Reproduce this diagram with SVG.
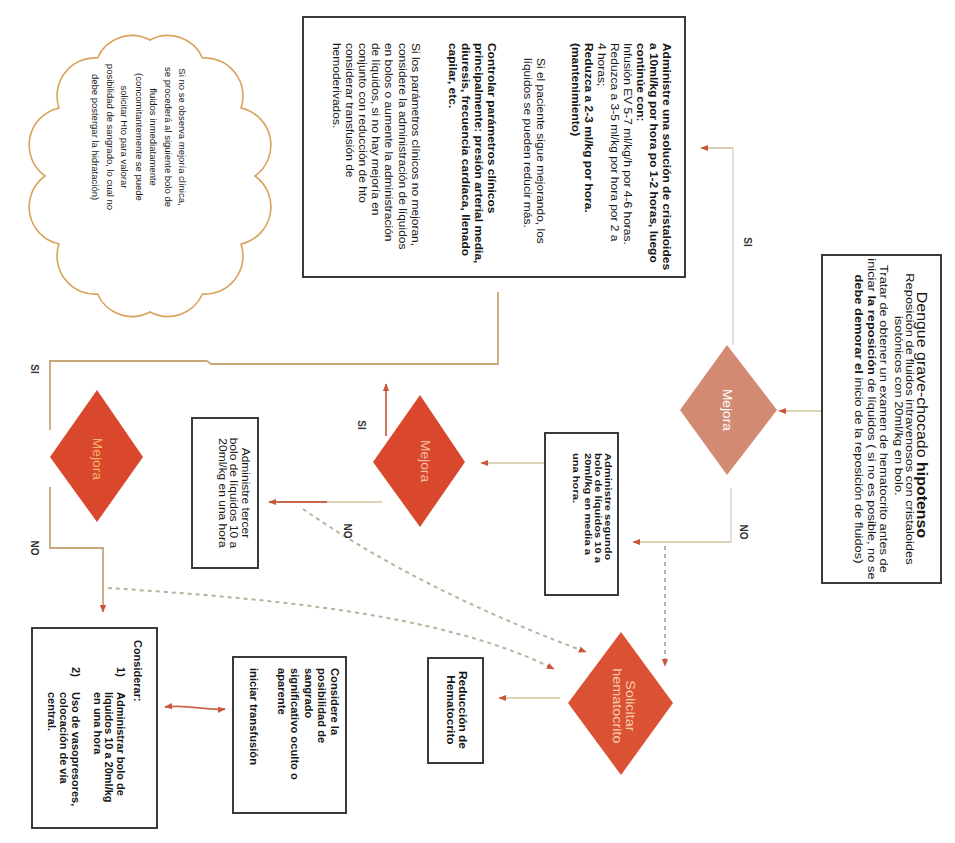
<svg xmlns="http://www.w3.org/2000/svg" width="955" height="843" viewBox="0 0 955 843">
<style>
.box{fill:#fff;stroke:#3a3a3a;stroke-width:2}
.t{font-family:"Liberation Sans",Arial,sans-serif;fill:#151515}
.b{font-weight:bold}
.ln{fill:none;stroke:#cfc59b;stroke-width:1.6}
.lf{fill:none;stroke:#dcd9cf;stroke-width:1.6}
.lb{fill:none;stroke:#c9a77a;stroke-width:1.8}
.lr{fill:none;stroke:#c8684e;stroke-width:1.8}
.dot{fill:none;stroke:#b8b29e;stroke-width:2;stroke-dasharray:4 4}
.dia{fill:#d9482c}
.lab{font-family:"Liberation Sans",Arial,sans-serif;font-weight:bold;font-size:10px;fill:#333}
</style>
<defs>
<marker id="ah" viewBox="0 0 10 10" refX="9" refY="5" markerUnits="userSpaceOnUse" markerWidth="8" markerHeight="8" orient="auto-start-reverse"><path d="M0,1 L10,5 L0,9 z" fill="#c9553a"/></marker>
</defs>
<rect width="955" height="843" fill="#fff"/>

<g id="connectors">
<path class="ln" d="M822,411 L779,411" marker-end="url(#ah)"/>
<path class="lf" d="M733,345 L733,148"/>
<path class="ln" d="M733,148 L701,148" marker-end="url(#ah)"/>
<path class="lf" d="M731,488 L731,542"/>
<path class="ln" d="M731,542 L633,542" marker-end="url(#ah)"/>
<path class="dot" d="M665,546 L665,666" marker-end="url(#ah)"/>
<path class="ln" d="M545,463 L481,463" marker-end="url(#ah)"/>
<path class="lr" d="M386,436 L386,384" marker-end="url(#ah)"/>
<path class="ln" d="M382,502 L327,502"/>
<path class="lr" d="M327,502 L269,502" marker-end="url(#ah)"/>
<path class="dot" d="M303,509 Q420,590 586,652" marker-end="url(#ah)"/>
<path class="dot" d="M108,588 C260,598 440,612 554,669" marker-end="url(#ah)"/>
<path class="lb" d="M50,430 L50,361 L207,361 L211,364 L498,364 L498,292"/>
<path class="lb" d="M50,487 L50,548 L103,548 L103,612" marker-end="url(#ah)"/>
<path class="lr" d="M165,707 C190,704 205,711 225,709" marker-start="url(#ah)" marker-end="url(#ah)"/>
<path class="ln" d="M560,698 L499,698" marker-end="url(#ah)"/>
<text class="lab" x="747" y="242" transform="rotate(90 747 242)" text-anchor="middle" dominant-baseline="central">SI</text>
<text class="lab" x="743" y="532" transform="rotate(90 743 532)" text-anchor="middle" dominant-baseline="central">NO</text>
<text class="lab" x="361" y="425" transform="rotate(90 361 425)" text-anchor="middle" dominant-baseline="central">SI</text>
<text class="lab" x="347" y="531" transform="rotate(90 347 531)" text-anchor="middle" dominant-baseline="central">NO</text>
<text class="lab" x="34" y="369" transform="rotate(90 34 369)" text-anchor="middle" dominant-baseline="central">SI</text>
<text class="lab" x="34" y="548" transform="rotate(90 34 548)" text-anchor="middle" dominant-baseline="central">NO</text>
</g>

<g id="box-cristaloides">
<rect class="box" x="303" y="17" width="382" height="260"/>
<g class="t" font-size="10" transform="rotate(90) scale(1.2,1)">
<text class="b" x="35.8" y="-663.4">Administre una solución de cristaloides</text>
<text class="b" x="35.8" y="-650.3">a 10ml/kg por hora po 1-2 horas, luego</text>
<text class="b" x="35.8" y="-637.2">continúe con:</text>
<text x="35.8" y="-624.1">Infusión EV 5-7 ml/kg/h por 4-6 horas.</text>
<text x="35.8" y="-611">Reduzca a 3-5 ml/kg por hora por 2 a</text>
<text x="35.8" y="-597.9">4 horas;</text>
<text class="b" x="35.8" y="-584.8">Reduzca a 2-3 ml/kg por hora.</text>
<text class="b" x="35.8" y="-571.7">(mantenimiento)</text>
<text x="48.3" y="-536.7">Si el paciente sigue mejorando, los</text>
<text x="48.3" y="-523.6">líquidos se pueden reducir más.</text>
<text class="b" x="35.8" y="-488.4">Controlar parámetros clínicos</text>
<text class="b" x="35.8" y="-475.3">principalmente: presión arterial media,</text>
<text class="b" x="35.8" y="-462.2">diuresis, frecuencia cardíaca, llenado</text>
<text class="b" x="35.8" y="-449.1">capilar, etc.</text>
<text x="35.8" y="-411.7">Si los parámetros clínicos no mejoran,</text>
<text x="35.8" y="-398.6">considere la administración de líquidos</text>
<text x="35.8" y="-385.5">en bolos o aumente la administración</text>
<text x="35.8" y="-372.4">de líquidos, si no hay mejoría en</text>
<text x="35.8" y="-359.3">conjunto con reducción de hto</text>
<text x="35.8" y="-346.2">considerar transfusión de</text>
<text x="35.8" y="-333.1">hemoderivados.</text>
</g>
</g>

<g id="cloud">
<path d="M255,176 A38,38 0 0 1 241,244 A38,38 0 0 1 202.5,294 A38,38 0 0 1 150,312 A38,38 0 0 1 97.5,294 A38,38 0 0 1 59,244 A38,38 0 0 1 45,176 A38,38 0 0 1 59,108 A38,38 0 0 1 97.5,58 A38,38 0 0 1 150,40 A38,38 0 0 1 202.5,58 A38,38 0 0 1 241,108 A38,38 0 0 1 255,176 Z" fill="#fff" stroke="#d9a25a" stroke-width="1.6"/>
<g class="t" font-size="9.5" text-anchor="middle" transform="rotate(90)">
<text x="137" y="-179">Si no se observa mejoría clínica,</text>
<text x="137" y="-164.5">se procederá al siguiente bolo de</text>
<text x="137" y="-150">fluidos inmediatamente</text>
<text x="137" y="-135.5">(concomitantemente se puede</text>
<text x="137" y="-121">solicitar Hto para valorar</text>
<text x="137" y="-106.5">posibilidad de sangrado, lo cual no</text>
<text x="137" y="-92">debe postergar la hidratación)</text>
</g>
</g>

<g id="box-dengue">
<rect class="box" x="822" y="255" width="119" height="328"/>
<g class="t" text-anchor="middle" transform="rotate(90) scale(1.14,1)">
<text x="364" y="-917.5" font-size="14">Dengue grave-chocado <tspan class="b">hipotenso</tspan></text>
<text x="367.5" y="-906.4" font-size="11.3">Reposición de fluidos intravenosos con cristaloides</text>
<text x="356" y="-894.7" font-size="11.3">isotónicos con 20ml/kg en bolo.</text>
<text x="367.5" y="-879.7" font-size="11.3">Tratar de obtener un examen de hematocrito antes de</text>
<text x="367.5" y="-868.1" font-size="11.3">iniciar <tspan class="b">la reposición</tspan> de líquidos ( si no es posible, no se</text>
<text x="367.5" y="-854.7" font-size="11.3"><tspan class="b">debe demorar el</tspan> inicio de la reposición de fluidos)</text>
</g>
</g>

<g id="dec-mejora-1">
<polygon points="727,345 777,410 727,475 680,410" fill="#d38a73"/>
<text x="356.5" y="-723.2" font-size="12" text-anchor="middle" fill="#fff" font-family="Liberation Sans,Arial,sans-serif" transform="rotate(90) scale(1.15,1)">Mejora</text>
</g>

<g id="box-segundo">
<rect class="box" x="545" y="433" width="73" height="162"/>
<g class="t b" font-size="9.5" transform="rotate(90) scale(1.17,1)">
<text x="387.2" y="-604.9">Administre segundo</text>
<text x="387.2" y="-594.9">bolo de líquidos 10 a</text>
<text x="387.2" y="-584.9">20ml/kg en media a</text>
<text x="387.2" y="-573.4">una hora.</text>
</g>
</g>

<g id="dec-mejora-2">
<polygon class="dia" points="420,395 465,462 420,527 373,462"/>
<text x="400.9" y="-421" font-size="12" text-anchor="middle" fill="#f2c0a8" font-family="Liberation Sans,Arial,sans-serif" transform="rotate(90) scale(1.15,1)">Mejora</text>
</g>

<g id="box-tercer">
<rect class="box" x="192" y="418" width="66" height="150"/>
<g class="t" font-size="10" text-anchor="middle" transform="rotate(90) scale(1.2,1)">
<text x="410.8" y="-241.7">Administre tercer</text>
<text x="410.8" y="-230">bolo de líquidos 10 a</text>
<text x="410.8" y="-219.4">20ml/kg en una hora</text>
</g>
</g>

<g id="dec-mejora-3">
<polygon class="dia" points="97,390 143,457 97,522 50,457"/>
<text x="399.1" y="-93.2" font-size="12" text-anchor="middle" fill="#f5b36b" font-family="Liberation Sans,Arial,sans-serif" transform="rotate(90) scale(1.15,1)">Mejora</text>
</g>

<g id="dec-hematocrito">
<polygon points="621,632 673,703 621,775 568,703" fill="#da5233"/>
<g font-size="12" text-anchor="middle" fill="#f8cba8" font-family="Liberation Sans,Arial,sans-serif" transform="rotate(90) scale(1.2,1)">
<text x="588.3" y="-626">Solicitar</text>
<text x="588.3" y="-613">hematocrito</text>
</g>
</g>

<g id="box-reduccion">
<rect class="box" x="428" y="658" width="55" height="105"/>
<g class="t b" font-size="10" text-anchor="middle" transform="rotate(90) scale(1.19,1)">
<text x="596.6" y="-458.7">Reducción de</text>
<text x="596.6" y="-446.7">Hematocrito</text>
</g>
</g>

<g id="box-considere">
<rect class="box" x="233" y="657" width="113" height="156"/>
<g class="t b" font-size="10" transform="rotate(90) scale(1.12,1)">
<text x="596.4" y="-330.7">Considere la</text>
<text x="596.4" y="-317.7">posibilidad de</text>
<text x="596.4" y="-304.7">sangrado</text>
<text x="596.4" y="-291.2">significativo oculto o</text>
<text x="596.4" y="-277.7">aparente</text>
<text x="596.4" y="-249.7">iniciar transfusión</text>
</g>
</g>

<g id="box-considerar">
<rect class="box" x="32" y="628" width="125" height="200"/>
<g class="t b" font-size="10" transform="rotate(90) scale(1.1,1)">
<text x="581.8" y="-133.7">Considerar:</text>
<text x="606.4" y="-116.7">1)</text>
<text x="629.1" y="-116.7">Administrar bolo de</text>
<text x="629.1" y="-105.2">líquidos 10 a 20ml/kg</text>
<text x="629.1" y="-93.7">en una hora</text>
<text x="606.4" y="-71.7">2)</text>
<text x="629.1" y="-71.7">Uso de vasopresores,</text>
<text x="629.1" y="-59.7">colocación de vía</text>
<text x="629.1" y="-47.7">central.</text>
</g>
</g>
</svg>
